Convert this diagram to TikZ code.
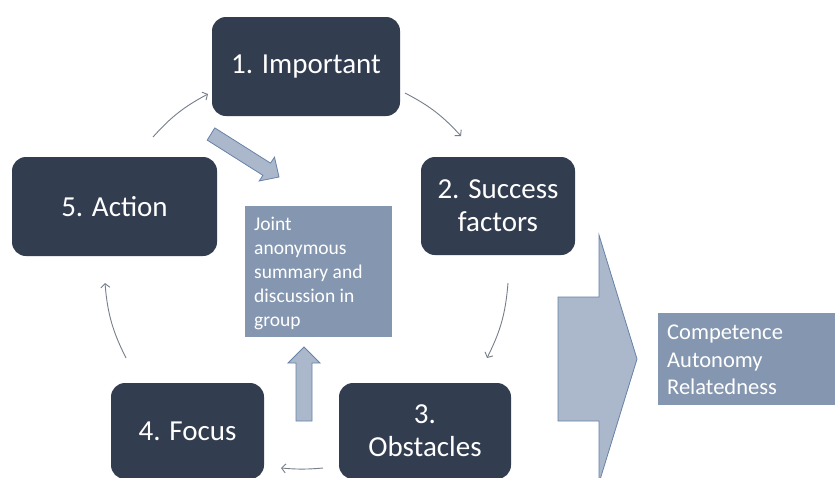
\documentclass[tikz,border=0pt]{standalone}
\usepackage{fontspec}
\setmainfont{Carlito}
\usetikzlibrary{arrows.meta}
\definecolor{navy}{RGB}{51,61,80}
\definecolor{infofill}{RGB}{133,151,176}
\definecolor{arrowfill}{RGB}{171,183,202}
\definecolor{arrowedge}{RGB}{104,130,168}
\definecolor{cycgray}{RGB}{118,126,138}
\begin{document}
\begin{tikzpicture}[x=1pt,y=-1pt,
  stage/.style={fill=navy, rounded corners=14pt, text=white, align=center,
    font=\fontsize{29}{33}\selectfont, inner sep=0pt},
  cyc/.style={draw=cycgray, line width=0.9pt, -{Straight Barb[length=4pt,width=9pt]}},
  blockarrow/.style={fill=arrowfill, draw=arrowedge, line width=0.8pt, line join=miter},
  infobox/.style={fill=infofill, inner sep=0pt, anchor=north west},
  infotext/.style={text=white, align=left, inner sep=0pt, anchor=north west}]
\useasboundingbox (0,0) rectangle (835,477);
\clip (0,0) rectangle (835,477);
\fill[white] (0,0) rectangle (835,477);

% stage boxes
\node[stage, minimum width=188pt, minimum height=99pt] (n1) at (306,66.5) {1. Important};
\node[stage, minimum width=154pt, minimum height=98pt] (n2) at (498,206) {2. Success\\factors};
\node[stage, minimum width=172pt, minimum height=96pt] (n3) at (425,431) {3.\\Obstacles};
\node[stage, minimum width=153pt, minimum height=96pt] (n4) at (187.5,431) {4. Focus};
\node[stage, minimum width=205pt, minimum height=99pt] (n5) at (114.5,206.5) {5. Action};

% info boxes
\node[infobox, minimum width=147pt, minimum height=131pt] (joint) at (245,206) {};
\node[infotext, font=\fontsize{19.5}{24}\selectfont] (jointtxt)
  at ([xshift=9pt,yshift=-10.5pt]joint.north west)
  {Joint\\anonymous\\summary and\\discussion in\\group};
\node[infobox, minimum width=185pt, minimum height=92pt] (sdt) at (658,313) {};
\node[infotext, font=\fontsize{22.5}{27.5}\selectfont] (sdttxt)
  at ([xshift=9pt,yshift=-12pt]sdt.north west)
  {Competence\\Autonomy\\Relatedness};

% cycle connector end points
\coordinate (c51a) at (153,137); \coordinate (c51b) at (208,94);
\coordinate (c12a) at (405,93);  \coordinate (c12b) at (461,136);
\coordinate (c23a) at (508,283); \coordinate (c23b) at (487,358);
\coordinate (c34a) at (323,468); \coordinate (c34b) at (281,468);
\coordinate (c45a) at (126,358); \coordinate (c45b) at (105,283);

\draw[cyc] (c51a) to[bend left=10] (c51b);
\draw[cyc] (c12a) to[bend left=10] (c12b);
\draw[cyc] (c23a) to[bend left=11] (c23b);
\draw[cyc] (c34a) to[bend left=5] (c34b);
\draw[cyc] (c45a) to[bend left=11] (c45b);

% block arrows
\draw[blockarrow] (207.2,140.1) -- (214.8,127.9) -- (270.5,163.1) -- (274.5,157.2)
  -- (279,177) -- (259.2,181) -- (262.9,175.3) -- cycle;
\draw[blockarrow] (296,421) -- (312,421) -- (312,363) -- (320,363) -- (304,347)
  -- (288,363) -- (296,363) -- cycle;
\draw[blockarrow] (558,297) -- (599,297) -- (599,235) -- (637,359) -- (599,483)
  -- (599,421) -- (558,421) -- cycle;
\end{tikzpicture}
\end{document}
